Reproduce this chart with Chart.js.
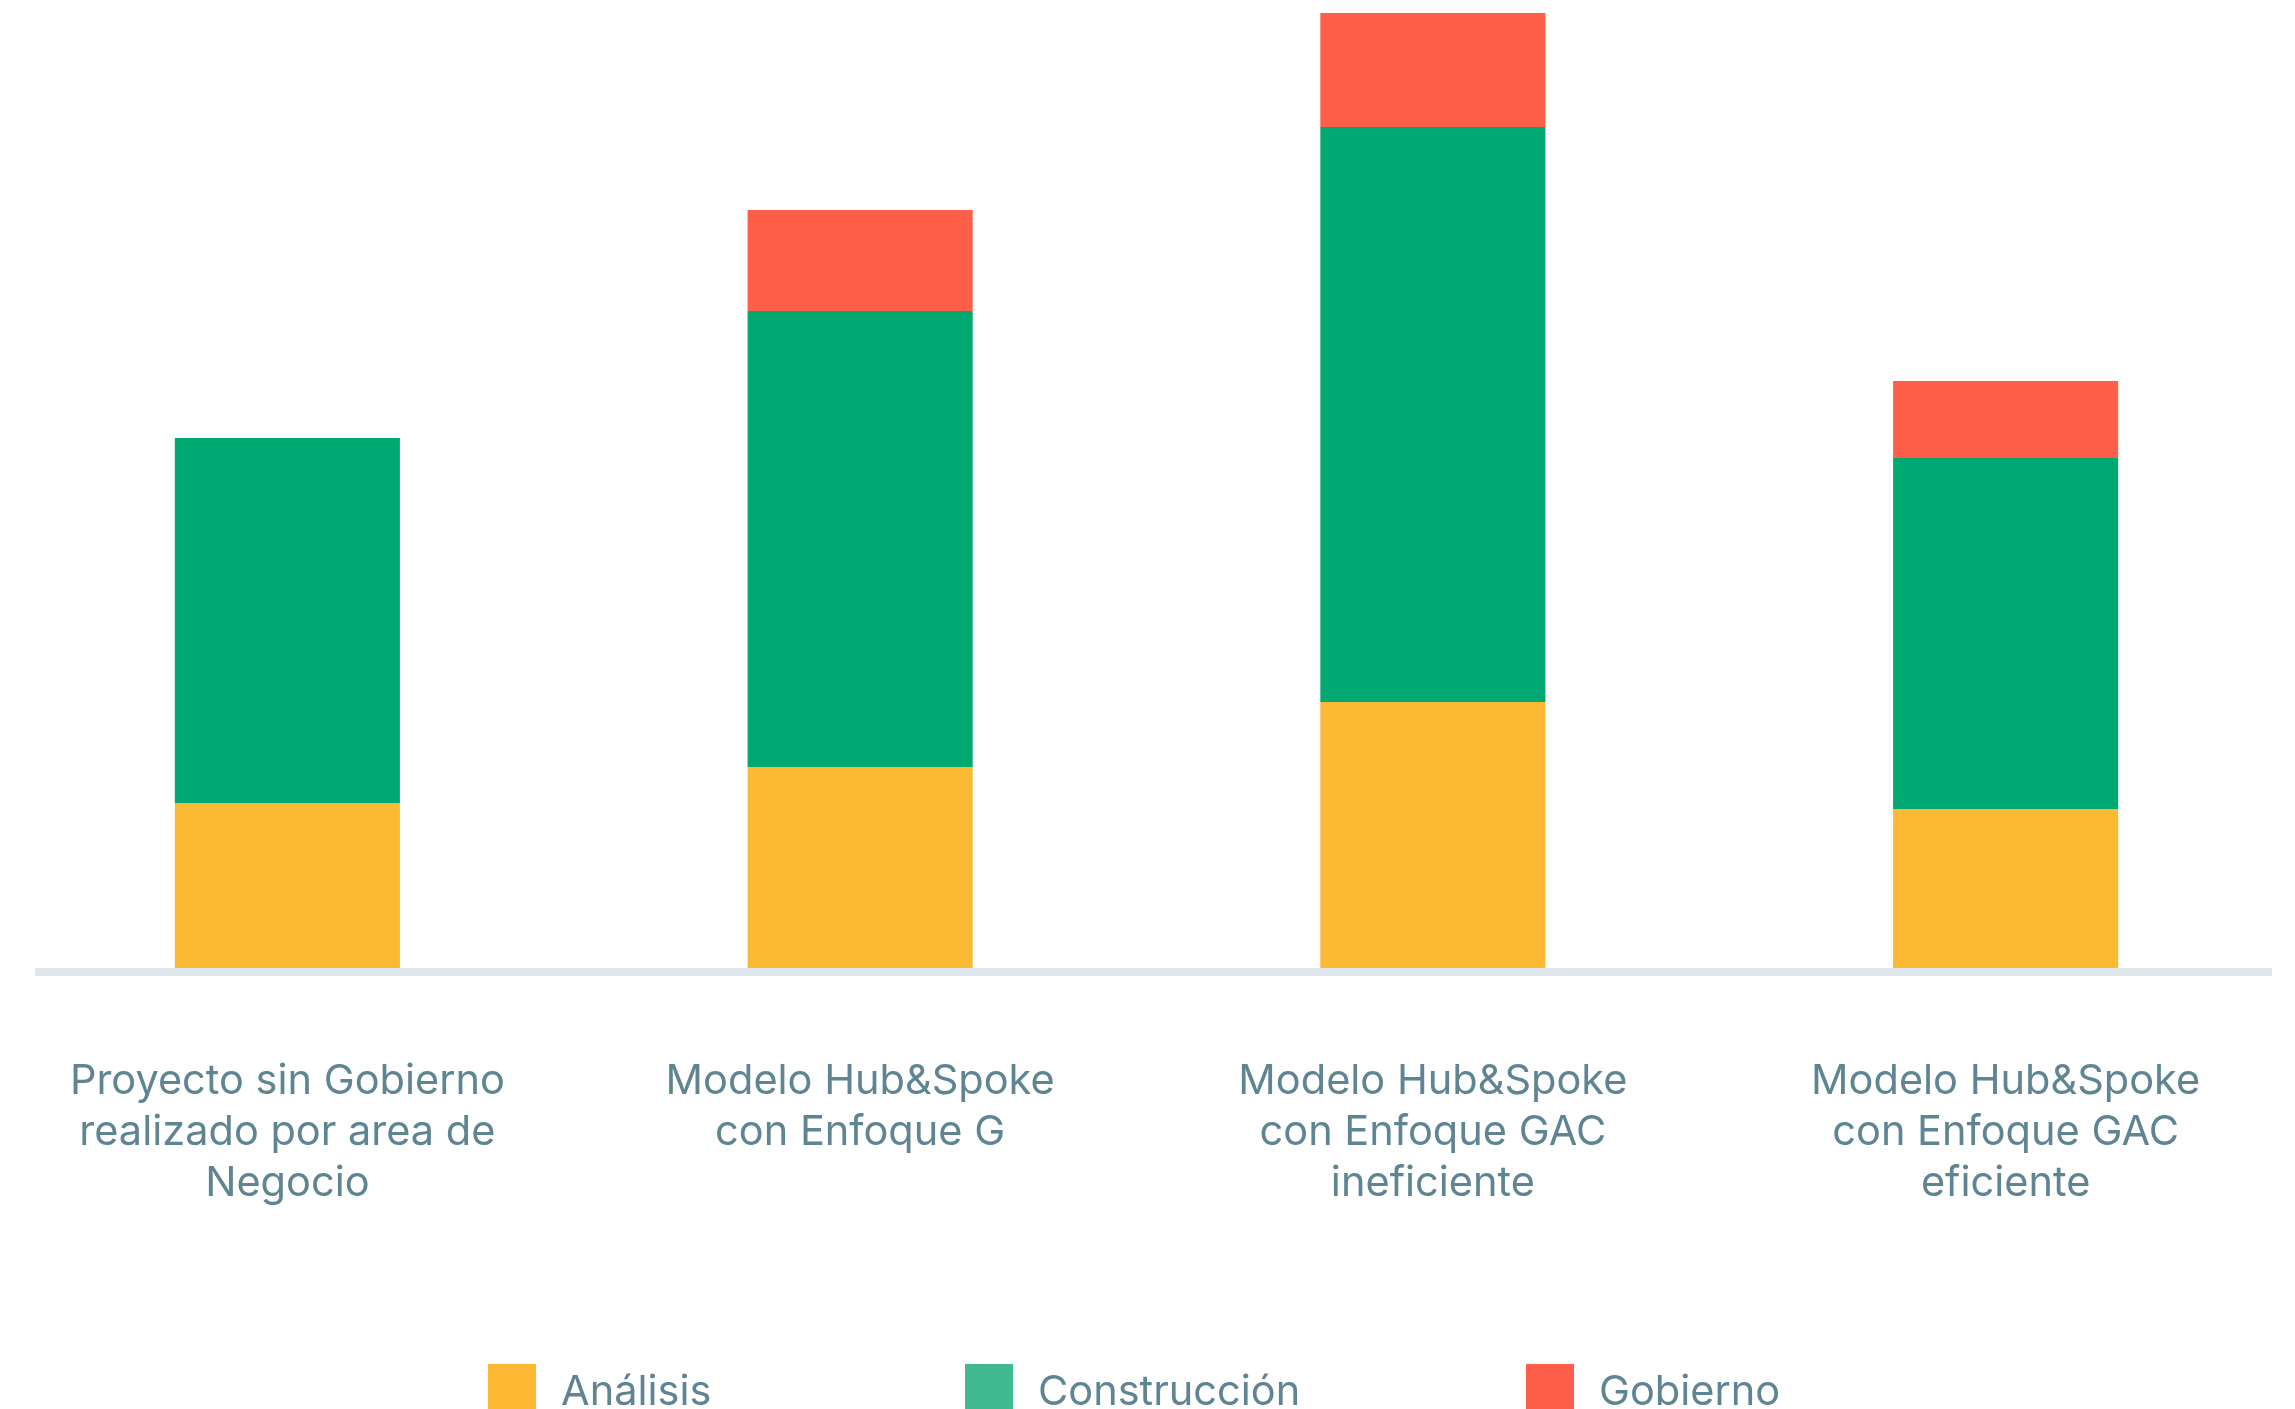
<!DOCTYPE html>
<html lang="es">
<head>
  <meta charset="UTF-8"/>
  <title>Modelos de Gobierno</title>
  <script src="https://cdn.jsdelivr.net/npm/chart.js@4"></script>
  <style>
    html, body { margin: 0; padding: 0; background: #fff; overflow: hidden; }
    .wrap { position: relative; width: 2295px; height: 1409px; }
    .legend { position: absolute; top: 1364px; left: 0; width: 100%; height: 60px; font-family: Inter, sans-serif; font-size: 41.5px; color: #5e8591; }
    .legend .item { position: absolute; top: 0; display: flex; align-items: flex-start; }
    .legend .box { width: 48px; height: 48px; margin-right: 25px; }
    .legend .txt { line-height: 48px; margin-top: 2px; }
  </style>
</head>
<body>
  <div class="wrap">
    <canvas id="chart"></canvas>
    <div class="legend" id="legend"></div>
  </div>

  <script>
    // categories (multi-line labels)
    const categories = [
      ["Proyecto sin Gobierno", "realizado por area de", "Negocio"],
      ["Modelo Hub&Spoke", "con Enfoque G"],
      ["Modelo Hub&Spoke", "con Enfoque GAC", "ineficiente"],
      ["Modelo Hub&Spoke", "con Enfoque GAC", "eficiente"]
    ];

    // series values
    const analisis     = [16.5, 20.1, 26.6, 15.9];
    const construccion = [36.5, 45.6, 57.5, 35.1];
    const gobierno     = [0, 10.1, 11.4, 7.7];

    const seriesNames = ["Análisis", "Construcción", "Gobierno"];
    const barColors = ['#fbb934', '#00a971', '#ff5f48'];
    const legendColors = ['#fcb833', '#41ba91', '#ff5f48'];
    const textColor = '#5e8591';

    // thick light baseline under the bars
    const baseLine = {
      id: 'baseLine',
      afterDatasetsDraw(chart) {
        const { ctx, chartArea } = chart;
        ctx.save();
        ctx.fillStyle = '#dfe7ed';
        ctx.fillRect(chartArea.left + 34, chartArea.bottom, chartArea.right - chartArea.left - 54, 8);
        ctx.restore();
      }
    };

    new Chart(document.getElementById('chart'), {
      type: 'bar',
      data: {
        labels: categories,
        datasets: [analisis, construccion, gobierno].map((d, i) => ({
          label: seriesNames[i],
          data: d,
          backgroundColor: barColors[i],
          borderWidth: 0,
          barPercentage: 0.393,
          categoryPercentage: 1
        }))
      },
      options: {
        responsive: true,
        maintainAspectRatio: false,
        animation: false,
        layout: { padding: { left: 1, right: 3, top: 0, bottom: 112 } },
        plugins: {
          legend: { display: false },
          tooltip: { enabled: false }
        },
        scales: {
          x: {
            stacked: true,
            grid: { display: false, drawTicks: false },
            border: { display: false },
            ticks: {
              color: textColor,
              padding: 88,
              font: { family: 'Inter', size: 41.5, lineHeight: '51px' }
            },
            // labels fit inside their columns, no extra side padding needed
            afterFit(scale) {
              scale.paddingLeft = 0;
              scale.paddingRight = 0;
            }
          },
          y: {
            stacked: true,
            display: false,
            min: 0,
            max: 96.8
          }
        }
      },
      plugins: [baseLine]
    });

    // legend as html, spread like the original
    const legendLeft = [488, 965, 1526];
    const legend = document.getElementById('legend');
    seriesNames.forEach((name, i) => {
      const item = document.createElement('div');
      item.className = 'item';
      item.style.left = legendLeft[i] + 'px';
      item.innerHTML = '<div class="box" style="background:' + legendColors[i] + '"></div><span class="txt">' + name + '</span>';
      legend.appendChild(item);
    });
  </script>
</body>
</html>
